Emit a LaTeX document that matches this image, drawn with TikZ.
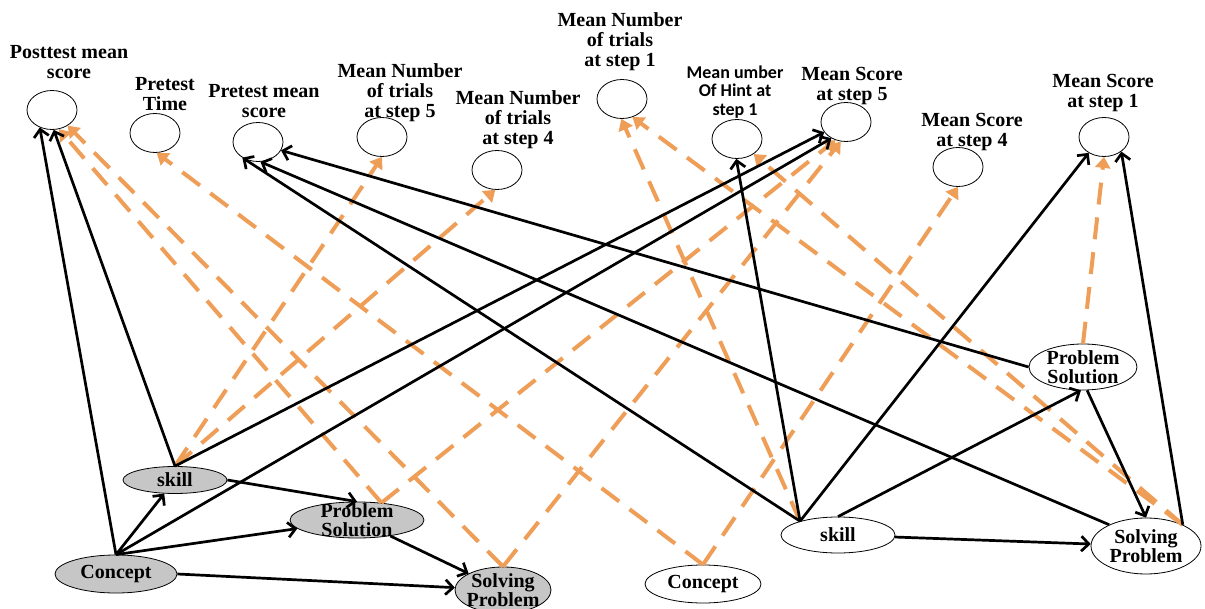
\documentclass[tikz,border=0pt]{standalone}
\usepackage{fontspec}
\setmainfont{Liberation Serif}
\newfontfamily\hintfont{Carlito}
\usetikzlibrary{arrows.meta,shapes.geometric}
\definecolor{dorange}{RGB}{239,158,88}
\definecolor{kcgray}{RGB}{198,198,198}
\begin{document}
\begin{tikzpicture}[x=1pt,y=-1pt,
  obs/.style={ellipse,draw,line width=0.8pt,minimum width=50pt,minimum height=39pt,inner sep=0pt},
  lab/.style={align=center,font=\bfseries\fontsize{20}{20}\selectfont,inner sep=0pt},
  hintlab/.style={align=center,font=\hintfont\bfseries\fontsize{18}{18.5}\selectfont,inner sep=0pt},
  kc/.style={ellipse,draw,line width=0.8pt,inner sep=0pt},
  kcg/.style={kc,fill=kcgray},
  kcw/.style={kc,fill=white},
  kctext/.style={align=center,font=\bfseries\fontsize{20}{19.5}\selectfont,inner sep=0pt},
  blk/.style={line width=2.7pt,black,-{Straight Barb[length=7.5pt,width=15pt]}},
  org/.style={line width=4pt,dorange,dash pattern=on 22pt off 13pt,-{Triangle[length=11pt,width=15pt]}}
]
\fill[white] (0,0) rectangle (1205,609);
\useasboundingbox (0,0) rectangle (1205,609);

% observed variables (top)
\node[obs] (post)  at (52,110)  {};
\node[obs] (ptime) at (155,133) {};
\node[obs] (pmean) at (258,142) {};
\node[obs] (mnt5)  at (382,137) {};
\node[obs] (mnt4)  at (497,170) {};
\node[obs] (mnt1)  at (622,99)  {};
\node[obs] (hint)  at (737,139) {};
\node[obs] (ms5)   at (846,122) {};
\node[obs] (ms4)   at (958,167) {};
\node[obs] (ms1)   at (1104,137) {};

\node[lab] (postL)  at (69,62)   {Posttest mean\\score};
\node[lab] (ptimeL) at (165,94)  {Pretest\\Time};
\node[lab] (pmeanL) at (264,101) {Pretest mean\\score};
\node[lab] (mnt5L)  at (400,93)  {Mean Number\\of trials\\at step 5};
\node[lab] (mnt4L)  at (518,120) {Mean Number\\of trials\\at step 4};
\node[lab] (mnt1L)  at (620,42)  {Mean Number\\of trials\\at step 1};
\node[hintlab] (hintL) at (735,92) {Mean umber\\Of Hint at\\step 1};
\node[lab] (ms5L)   at (852,86)  {Mean Score\\at step 5};
\node[lab] (ms4L)   at (972,132) {Mean Score\\at step 4};
\node[lab] (ms1L)   at (1103,93) {Mean Score\\at step 1};

% left (grey) knowledge components
\node[kcg,minimum width=104pt,minimum height=27pt] (skL) at (175,480) {};
\node[kctext] (skLt) at (skL) {skill};
\node[kcg,minimum width=134pt,minimum height=36pt] (psL) at (357,520) {};
\node[kctext] (psLt) at (psL) {Problem\\Solution};
\node[kcg,minimum width=122pt,minimum height=38pt] (cL) at (116,574) {};
\node[kctext] (cLt) at (cL) {Concept};
\node[kcg,minimum width=96pt,minimum height=46pt] (spL) at (503,590) {};
\node[kctext] (spLt) at (spL) {Solving\\Problem};

% right (white) knowledge components
\node[kcw,minimum width=116pt,minimum height=38pt] (cR) at (703,584) {};
\node[kctext] (cRt) at (cR) {Concept};
\node[kcw,minimum width=114pt,minimum height=36pt] (skR) at (838,535) {};
\node[kctext] (skRt) at (skR) {skill};
\node[kcw,minimum width=108pt,minimum height=46pt] (psR) at (1083,367) {};
\node[kctext] (psRt) at (psR) {Problem\\Solution};
\node[kcw,minimum width=110pt,minimum height=56pt] (spR) at (1146,546) {};
\node[kctext] (spRt) at (spR) {Solving\\Problem};

% dashed (orange) connectors
\draw[org] (skL.north) -- (mnt5.south);
\draw[org] (skL.north) -- (mnt4.265);
\draw[org] (psL.35) -- (post.290);
\draw[org] (psL.35) -- (ms5.240);
\draw[org] (spL.north) -- (post.315);
\draw[org] (spL.north) -- (ms5.255);
\draw[org] (cR.north) -- (ptime.275);
\draw[org] (cR.north) -- (ms4.south);
\draw[org] (skR.160) -- (mnt1.268);
\draw[org] (spR.30) -- (mnt1.300);
\draw[org] (spR.30) -- (hint.318);
\draw[org] (psR.north) -- (ms1.south);

% solid (black) connectors
\draw[blk] (cL.north) -- (post.235);
\draw[blk] (cL.north) -- (skL);
\draw[blk] (cL.north) -- (ms5.228);
\draw[blk] (cL.north) -- (psL);
\draw[blk] (cL.east) -- (spL);
\draw[blk] (skL.north) -- (post.275);
\draw[blk] (skL.north) -- (ms5.205);
\draw[blk] (skL.east) -- (psL.north);
\draw[blk] (psL) -- (spL);
\draw[blk] (skR.160) -- (pmean.225);
\draw[blk] (skR.160) -- (hint.268);
\draw[blk] (skR.160) -- (ms1.226);
\draw[blk] (skR.north) -- (psR.265);
\draw[blk] (skR) -- (spR);
\draw[blk] (psR.west) -- (pmean.340);
\draw[blk] (psR.280) -- (spR.north);
\draw[blk] (spR.150) -- (pmean.277);
\draw[blk] (spR.30) -- (ms1.320);
\end{tikzpicture}
\end{document}
